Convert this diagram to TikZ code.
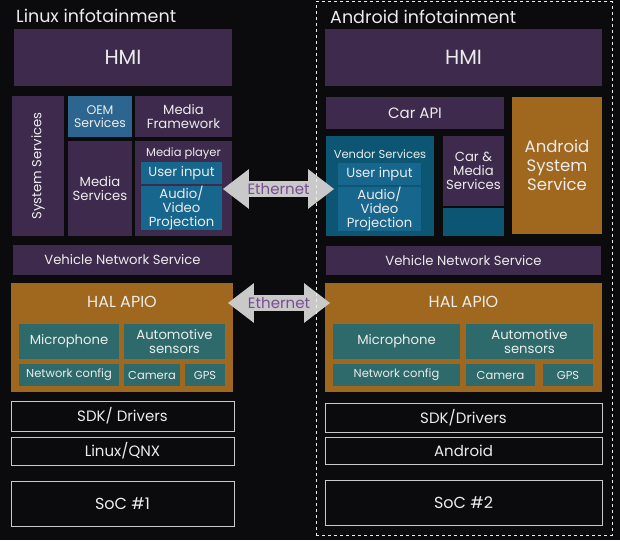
\documentclass[tikz,border=0pt]{standalone}
\usepackage{fontspec}
\setmainfont{Poppins}
\usetikzlibrary{shapes.arrows,positioning}

\definecolor{bgblack}{HTML}{0B0A0D}
\definecolor{hmipurple}{HTML}{3D2A4C}
\definecolor{oemblue}{HTML}{2C6690}
\definecolor{halorange}{HTML}{A0671F}
\definecolor{halteal}{HTML}{2E6A6B}
\definecolor{vendorblue}{HTML}{0D5673}
\definecolor{inputblue}{HTML}{17668E}
\definecolor{ethgrey}{HTML}{C9C9C9}
\definecolor{ethtext}{HTML}{7A4E92}
\definecolor{labelwhite}{HTML}{ECECEC}

\tikzset{wh/.style 2 args={minimum width=#1,minimum height=#2}}

\begin{document}
\begin{tikzpicture}[x=1pt,y=-1pt]
        \fill [bgblack] (0,0) rectangle (620,540);
        \useasboundingbox (0,0) rectangle (620,540);

        \tikzstyle{every node}=[text=labelwhite,align=center,inner sep=0pt,font=\fontsize{13.2}{14.2}\selectfont]
        \tikzstyle{pbox}=[fill=hmipurple]
        \tikzstyle{bbox}=[fill=oemblue]
        \tikzstyle{obox}=[fill=halorange]
        \tikzstyle{tbox}=[fill=halteal]
        \tikzstyle{vbox}=[fill=vendorblue]
        \tikzstyle{ibox}=[fill=inputblue]
        \tikzstyle{line}=[draw=labelwhite!85!black,line width=1pt,font=\fontsize{15}{16}\selectfont]
        \tikzstyle{small}=[font=\fontsize{11.5}{12.5}\selectfont]
        \tikzstyle{large}=[font=\fontsize{16}{17.5}\selectfont]
        \tikzstyle{big}=[font=\fontsize{20.5}{22}\selectfont]
        \tikzstyle{title}=[anchor=west,font=\fontsize{17.5}{19}\selectfont]
        \tikzstyle{eth}=[double arrow,fill=ethgrey,text=ethtext,
            double arrow head extend=12,double arrow tip angle=75,inner xsep=3pt,inner ysep=2pt,
            font=\fontsize{15}{16}\selectfont]

        %linux side
        \node [title] (title1) at (16,16) {Linux infotainment};
        \node [pbox,big,wh={218}{57}] (hmi1) at (123,57.5) {HMI};
        \node [pbox,wh={140}{52},rotate=90] (sys1) at (38,166) {System Services};
        \node [bbox,wh={64}{41},font=\fontsize{12.5}{13.5}\selectfont] (oem1) at (100,116.5) {OEM\\Services};
        \node [pbox,wh={97}{41}] (fw1) at (183.5,116.5) {Media\\Framework};
        \node [pbox,wh={64}{95}] (ms1) at (100,188.5) {Media\\Services};
        \node [pbox,wh={97}{95}] (mp1) at (183.5,188.5) {};
        \node [small] (mplabel1) at (183.5,154) {Media player};
        \node [ibox,wh={81}{22}] (in1) at (181.5,173) {User input};
        \node [ibox,wh={81}{42}] (av1) at (181.5,208) {Audio/\\Video\\Projection};
        \node [pbox,wh={219}{30}] (vns1) at (122.5,260) {Vehicle Network Service};

        \node [obox,wh={222}{109}] (hal1) at (122,337.5) {};
        \node [large] (hallabel1) at (122,302) {HAL APIO};
        \node [tbox,wh={100}{35}] (mic1) at (69,341.5) {Microphone};
        \node [tbox,wh={101}{35}] (auto1) at (174.5,341.5) {Automotive\\sensors};
        \node [tbox,small,wh={100}{22}] (net1) at (69,375) {Network config};
        \node [tbox,small,wh={56}{22}] (cam1) at (152,375) {Camera};
        \node [tbox,small,wh={40}{22}] (gps1) at (205,375) {GPS};

        \node [line,wh={223}{30}] (sdk1) at (122.5,416) {SDK/ Drivers};
        \node [line,wh={223}{28}] (os1) at (122.5,451) {Linux/QNX};
        \node [line,large,wh={223}{45}] (soc1) at (122.5,503.5) {SoC \#1};

        %android side
        \node [title] (title2) at (330,17) {Android infotainment};
        \node [pbox,big,wh={277}{57}] (hmi2) at (463.5,57.5) {HMI};
        \node [pbox,wh={178}{32},font=\fontsize{15}{16}\selectfont] (api2) at (415,113) {Car API};
        \node [obox,wh={90}{137},font=\fontsize{16.5}{19}\selectfont] (ass2) at (557,165.5) {Android\\System\\Service};
        \node [vbox,wh={108}{100}] (vs2) at (380,186) {};
        \node [small] (vslabel2) at (380,154) {Vendor Services};
        \node [ibox,wh={83}{22}] (in2) at (379.5,174) {User input};
        \node [ibox,wh={83}{44}] (av2) at (379.5,209) {Audio/\\Video\\Projection};
        \node [pbox,wh={61}{70}] (cms2) at (473.5,171) {Car \&\\Media\\Services};
        \node [vbox,wh={61}{28}] (blank2) at (473.5,222) {};
        \node [pbox,wh={275}{29}] (vns2) at (463.5,260.5) {Vehicle Network Service};

        \node [obox,wh={277}{109}] (hal2) at (463.5,337.5) {};
        \node [large] (hallabel2) at (463.5,302) {HAL APIO};
        \node [tbox,wh={127}{35}] (mic2) at (396.5,341.5) {Microphone};
        \node [tbox,wh={127}{35}] (auto2) at (529.5,341.5) {Automotive\\sensors};
        \node [tbox,small,wh={127}{22}] (net2) at (396.5,375) {Network config};
        \node [tbox,small,wh={69}{22}] (cam2) at (500.5,375) {Camera};
        \node [tbox,small,wh={50}{22}] (gps2) at (568,375) {GPS};

        \node [line,wh={277}{29}] (sdk2) at (463.5,417.5) {SDK/Drivers};
        \node [line,wh={277}{27}] (os2) at (463.5,450.5) {Android};
        \node [line,large,wh={277}{45}] (soc2) at (463.5,502.5) {SoC \#2};

        %links between the two sides
        \node [eth,minimum height=111] (eth1) at (278.5,189) {Ethernet};
        \node [eth,minimum height=102] (eth2) at (279,303) {Ethernet};

        \node [draw=labelwhite,dashed,line width=1pt,wh={296}{533}] (frame2) at (464,268.5) {};
\end{tikzpicture}
\end{document}
